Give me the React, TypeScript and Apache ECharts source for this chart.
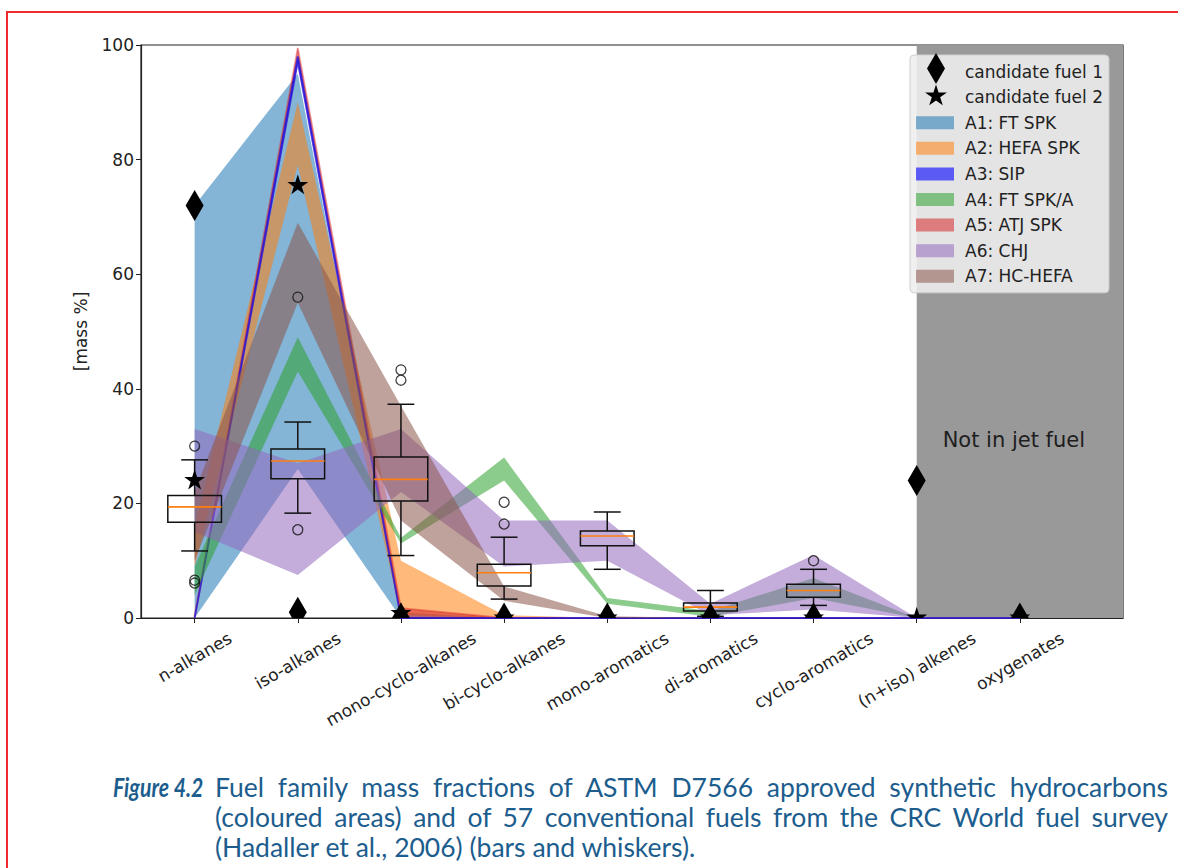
import React, { useEffect, useRef } from 'react';
import * as echarts from 'echarts';

// ---------- data ----------
const categories = [
  'n-alkanes', 'iso-alkanes', 'mono-cyclo-alkanes', 'bi-cyclo-alkanes', 'mono-aromatics',
  'di-aromatics', 'cyclo-aromatics', '(n+iso) alkenes', 'oxygenates',
];
const catX = [0, 1, 2, 3, 4, 5, 6, 7, 8];

// synthetic fuel ranges (min / max mass %) per family
const a1Lo = [0, 26, 0, 0, 0, 0, 0, 0, 0];
const a1Hi = [72, 95, 1, 0, 0, 0, 0, 0, 0];
const a2Lo = [9, 79, 0.5, 0, 0, 0, 0, 0, 0];
const a2Hi = [16, 90, 10, 0.5, 0, 0, 0, 0, 0];
const a3Lo = [0, 97, 0, 0, 0, 0, 0, 0, 0];
const a3Hi = [0, 98, 0, 0, 0, 0, 0, 0, 0];
const a4Lo = [4, 43, 13, 24, 2.5, 0.2, 3.5, 0, 0];
const a4Hi = [9, 49, 14, 28, 3.5, 1.2, 7, 0, 0];
const a5Lo = [0, 97.5, 0, 0, 0, 0, 0, 0, 0];
const a5Hi = [0.5, 99.5, 1.7, 0, 0, 0, 0, 0, 0];
const a6Lo = [15, 7.5, 22, 9, 10, 0.5, 1.5, 0, 0];
const a6Hi = [33, 27, 33, 17, 17, 2.5, 11, 0, 0];
const a7Lo = [10, 55, 17, 3, 0, 0, 0, 0, 0];
const a7Hi = [22, 69, 37, 5.5, 0.3, 0, 0, 0, 0];

// conventional fuels (CRC world fuel survey) box plots
const boxX = [0, 1, 2, 3, 4, 5, 6];
const boxLow = [11.7, 18.3, 10.9, 3.3, 8.5, 0.3, 2.2];
const boxQ1 = [16.7, 24.3, 20.4, 5.6, 12.6, 1.2, 3.6];
const boxMed = [19.4, 27.4, 24.2, 7.9, 14.3, 1.9, 4.8];
const boxQ3 = [21.4, 29.5, 28.1, 9.4, 15.2, 2.6, 5.9];
const boxHigh = [27.6, 34.2, 37.3, 14.1, 18.5, 4.8, 8.5];
const outlierX = [0, 0, 0, 1, 1, 2, 2, 3, 3, 6];
const outlierY = [30, 6.6, 6.1, 15.4, 56, 41.5, 43.3, 16.4, 20.2, 10];

// candidate fuels
const cand1 = [72, 1.0, 0, 0, 0, 0, 0, 24, 0];
const cand2 = [24, 75.5, 0.8, 0, 0, 0, 0, 0, 0];

const notJetRange = [7, 9];
const yTicks = { min: 0, max: 100, interval: 20 };

// ---------- styles ----------
const FONT = 'DejaVu Sans';
const TXT = '#222';
const FS = 17;
const ROT = 30;

function starPoints(cx: number, cy: number, R: number) {
  const pts: number[][] = [];
  for (let i = 0; i < 10; i++) {
    const r = i % 2 === 0 ? R : R * 0.381966;
    const a = -Math.PI / 2 + (i * Math.PI) / 5;
    pts.push([cx + r * Math.cos(a), cy + r * Math.sin(a)]);
  }
  return pts;
}
function diamondPoints(cx: number, cy: number) {
  return [[cx, cy - 15.5], [cx + 9, cy], [cx, cy + 15.5], [cx - 9, cy]];
}

function areaSeries(name: string, color: string, lo: number[], hi: number[], stroke: string | null) {
  return {
    type: 'custom',
    name,
    silent: true,
    data: catX.map((x, i) => [x, lo[i], hi[i]]),
    encode: { x: 0, y: [1, 2] },
    itemStyle: { color },
    renderItem: (params: any, api: any) => {
      if (params.dataIndex !== 0) return null;
      const upper = catX.map((x, i) => api.coord([x, hi[i]]));
      const lower = catX.map((x, i) => api.coord([x, lo[i]])).reverse();
      return {
        type: 'polygon',
        shape: { points: upper.concat(lower) },
        style: stroke
          ? { fill: color, stroke, lineWidth: 1.8 }
          : { fill: color, stroke: null, lineWidth: 0 },
      };
    },
  };
}

function markerSeries(name: string, values: number[], kind: string) {
  return {
    type: 'custom',
    name,
    silent: true,
    clip: true,
    itemStyle: { color: '#000' },
    data: catX.map((x, i) => [x, values[i]]),
    encode: { x: 0, y: 1 },
    renderItem: (params: any, api: any) => {
      const p = api.coord([api.value(0), api.value(1)]);
      const pts = kind === 'diamond' ? diamondPoints(p[0], p[1]) : starPoints(p[0], p[1], 11);
      return { type: 'polygon', shape: { points: pts }, style: { fill: '#000' } };
    },
  };
}

function buildRich() {
  const ctx = document.createElement('canvas').getContext('2d') as CanvasRenderingContext2D;
  ctx.font = `${FS}px "${FONT}"`;
  const rad = (ROT * Math.PI) / 180;
  const rich: any = {};
  categories.forEach((c, i) => {
    const L = ctx.measureText(c).width;
    const H = L * Math.sin(rad) + 20 * Math.cos(rad);
    const d = H / 2;
    rich['c' + i] = {
      fontSize: FS,
      fontFamily: FONT,
      color: TXT,
      padding: [d * 2 * Math.cos(rad), d, 0, 0],
    };
  });
  return rich;
}

function buildOption() {
  const rich = buildRich();
  return {
    animation: false,
    backgroundColor: 'transparent',
    grid: {
      left: 141, top: 45, right: 55, bottom: 250,
      show: true, borderColor: '#222', borderWidth: 1.2, backgroundColor: 'transparent',
    },
    xAxis: {
      type: 'value',
      min: -0.52,
      max: 9,
      splitLine: { show: false },
      axisLine: { show: true, onZero: false, lineStyle: { color: '#222', width: 1.2 } },
      axisTick: { show: true, customValues: catX, length: 5, lineStyle: { color: '#222' } },
      axisLabel: {
        customValues: catX,
        rotate: ROT,
        align: 'center',
        verticalAlign: 'middle',
        margin: 10,
        formatter: (v: number) => {
          const i = Math.round(v);
          return `{c${i}|${categories[i]}}`;
        },
        rich,
      },
    },
    yAxis: {
      type: 'value',
      min: yTicks.min,
      max: yTicks.max,
      interval: yTicks.interval,
      name: '[mass %]',
      nameLocation: 'middle',
      nameGap: 52,
      nameRotate: 90,
      nameTextStyle: { fontFamily: FONT, fontSize: FS, color: TXT },
      splitLine: { show: false },
      axisLine: { show: true, onZero: false, lineStyle: { color: '#222', width: 1.2 } },
      axisTick: { show: true, length: 5, lineStyle: { color: '#222' } },
      axisLabel: { fontFamily: FONT, fontSize: FS, color: TXT, margin: 7 },
    },
    legend: {
      orient: 'vertical',
      left: 910,
      top: 55,
      padding: [8, 6, 8, 6],
      itemWidth: 38,
      itemHeight: 13,
      itemGap: 8.6,
      backgroundColor: 'rgba(238,238,238,0.88)',
      borderColor: '#cfcfcf',
      borderWidth: 1,
      borderRadius: 4,
      selectedMode: false,
      textStyle: { fontFamily: FONT, fontSize: FS, color: TXT, padding: [0, 0, 0, 6] },
      data: [
        { name: 'candidate fuel 1', icon: 'rect', itemStyle: { color: 'rgba(0,0,0,0)' } },
        { name: 'candidate fuel 2', icon: 'rect', itemStyle: { color: 'rgba(0,0,0,0)' } },
        { name: 'A1: FT SPK', icon: 'rect' },
        { name: 'A2: HEFA SPK', icon: 'rect' },
        { name: 'A3: SIP', icon: 'rect' },
        { name: 'A4: FT SPK/A', icon: 'rect' },
        { name: 'A5: ATJ SPK', icon: 'rect' },
        { name: 'A6: CHJ', icon: 'rect' },
        { name: 'A7: HC-HEFA', icon: 'rect' },
      ],
    },
    graphic: [
      { type: 'polygon', z: 100, shape: { points: diamondPoints(936, 68.5) }, style: { fill: '#000' } },
      { type: 'polygon', z: 100, shape: { points: starPoints(936, 96, 11.5) }, style: { fill: '#000' } },
    ],
    series: [
      {
        type: 'custom',
        name: 'not in jet fuel',
        silent: true,
        data: [[notJetRange[0], notJetRange[1]]],
        encode: { x: [0, 1] },
        renderItem: (params: any, api: any) => {
          const p0 = api.coord([api.value(0), yTicks.max]);
          const p1 = api.coord([api.value(1), yTicks.min]);
          const mid = api.coord([(api.value(0) + api.value(1)) / 2, 31]);
          return {
            type: 'group',
            children: [
              { type: 'rect', shape: { x: p0[0], y: p0[1], width: p1[0] - p0[0], height: p1[1] - p0[1] }, style: { fill: '#999999' } },
              {
                type: 'text', x: mid[0] - 6, y: mid[1],
                style: { text: 'Not in jet fuel', fontFamily: FONT, fontSize: 21, fill: '#1e1e1e', align: 'center', verticalAlign: 'middle' },
              },
            ],
          };
        },
      },
      areaSeries('A1: FT SPK', 'rgba(31,119,180,0.55)', a1Lo, a1Hi, null),
      areaSeries('A2: HEFA SPK', 'rgba(255,127,14,0.55)', a2Lo, a2Hi, null),
      areaSeries('A5: ATJ SPK', 'rgba(214,39,40,0.55)', a5Lo, a5Hi, 'rgba(214,39,40,0.45)'),
      areaSeries('A3: SIP', 'rgba(0,0,255,0.6)', a3Lo, a3Hi, 'rgba(30,20,230,0.75)'),
      areaSeries('A4: FT SPK/A', 'rgba(44,160,44,0.55)', a4Lo, a4Hi, null),
      areaSeries('A6: CHJ', 'rgba(148,103,189,0.55)', a6Lo, a6Hi, null),
      areaSeries('A7: HC-HEFA', 'rgba(140,86,75,0.55)', a7Lo, a7Hi, null),
      {
        type: 'custom',
        name: 'conventional fuels',
        silent: true,
        data: boxX.map((x, i) => [x, boxLow[i], boxQ1[i], boxMed[i], boxQ3[i], boxHigh[i]]),
        encode: { x: 0, y: [1, 2, 3, 4, 5] },
        renderItem: (params: any, api: any) => {
          const x = api.value(0);
          const c = (xx: number, yy: number) => api.coord([xx, yy]);
          const [xl, yq3] = c(x - 0.26, api.value(4));
          const [xr, yq1] = c(x + 0.26, api.value(2));
          const [xm, ymed] = c(x, api.value(3));
          const ylo = c(x, api.value(1))[1];
          const yhi = c(x, api.value(5))[1];
          const cl = c(x - 0.13, 0)[0];
          const cr = c(x + 0.13, 0)[0];
          const st = { stroke: '#111', lineWidth: 1.5, fill: 'none' };
          return {
            type: 'group',
            children: [
              { type: 'line', shape: { x1: xm, y1: yq1, x2: xm, y2: ylo }, style: st },
              { type: 'line', shape: { x1: xm, y1: yq3, x2: xm, y2: yhi }, style: st },
              { type: 'line', shape: { x1: cl, y1: ylo, x2: cr, y2: ylo }, style: st },
              { type: 'line', shape: { x1: cl, y1: yhi, x2: cr, y2: yhi }, style: st },
              { type: 'rect', shape: { x: xl, y: yq3, width: xr - xl, height: yq1 - yq3 }, style: st },
              { type: 'line', shape: { x1: xl, y1: ymed, x2: xr, y2: ymed }, style: { stroke: '#ff7f0e', lineWidth: 1.6 } },
            ],
          };
        },
      },
      {
        type: 'scatter',
        name: 'outliers',
        silent: true,
        symbol: 'circle',
        symbolSize: 10,
        itemStyle: { color: 'transparent', borderColor: '#111', borderWidth: 1.3 },
        data: outlierX.map((x, i) => [x, outlierY[i]]),
      },
      markerSeries('candidate fuel 1', cand1, 'diamond'),
      markerSeries('candidate fuel 2', cand2, 'star'),
    ],
  };
}

const capFont = 'Lato, "Noto Sans", sans-serif';
const capColor = '#1c5d8e';

export default function App() {
  const ref = useRef<HTMLDivElement>(null);
  useEffect(() => {
    const chart = echarts.init(ref.current as HTMLDivElement, null, { renderer: 'svg' });
    chart.setOption(buildOption() as any);
    return () => chart.dispose();
  }, []);
  return (
    <div style={{ position: 'fixed', left: 0, top: 0, width: 1178, height: 868, background: '#fff', overflow: 'hidden' }}>
      <div style={{ position: 'absolute', left: 6, top: 11, width: 1300, height: 1000, border: '2px solid #ee2a2a', boxSizing: 'border-box' }} />
      <div ref={ref} style={{ position: 'absolute', left: 0, top: 0, width: 1178, height: 868 }} />
      <div style={{ position: 'absolute', left: 113, top: 772, fontFamily: capFont, fontSize: 26.5, lineHeight: '30px', color: capColor, fontWeight: 'bold', fontStyle: 'italic', whiteSpace: 'nowrap', transform: 'scaleX(0.8)', transformOrigin: '0 0' }}>
        Figure 4.2
      </div>
      <div style={{ position: 'absolute', left: 215, top: 772, width: 953, fontFamily: capFont, fontSize: 26.5, lineHeight: '30px', color: capColor }}>
        <div style={{ textAlign: 'justify', textAlignLast: 'justify', whiteSpace: 'nowrap' }}>Fuel family mass fractions of ASTM D7566 approved synthetic hydrocarbons</div>
        <div style={{ textAlign: 'justify', textAlignLast: 'justify', whiteSpace: 'nowrap' }}>(coloured areas) and of 57 conventional fuels from the CRC World fuel survey</div>
        <div style={{ textAlign: 'left', whiteSpace: 'nowrap' }}>(Hadaller et al., 2006) (bars and whiskers).</div>
      </div>
    </div>
  );
}
